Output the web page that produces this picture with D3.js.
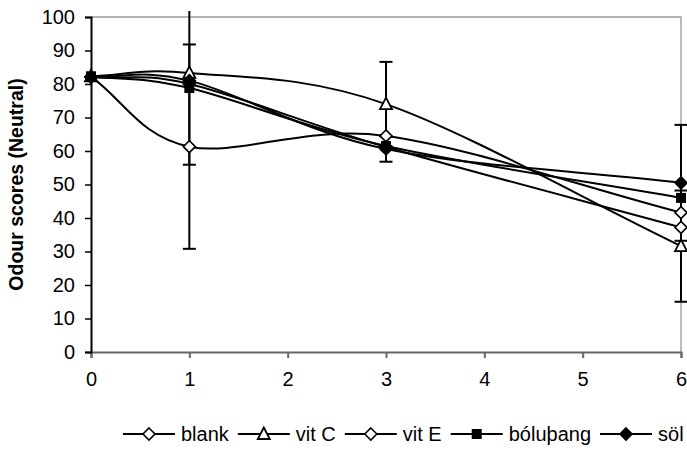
<!DOCTYPE html>
<html><head><meta charset="utf-8">
<script src="https://cdn.jsdelivr.net/npm/d3@7"></script>
<style>
html,body{margin:0;padding:0;background:#fff;}
svg{display:block;}
text{font-family:Arial,"Liberation Sans",sans-serif;fill:#000;}
</style></head>
<body>
<svg id="chart" width="687" height="454"></svg>
<script>
// ---- data ----
const days = [0, 1, 3, 6];
const xTicks = [0, 1, 2, 3, 4, 5, 6];
const yTicks = [0, 10, 20, 30, 40, 50, 60, 70, 80, 90, 100];
const seriesNames = ["blank", "vit C", "vit E", "bóluþang", "söl"];
const blank   = [82.2, 61.3, 64.5, 41.6];
const vitC    = [82.3, 83.3, 74.0, 31.6];
const vitE    = [82.0, 80.0, 61.2, 37.2];
const boluthang = [82.3, 78.8, 61.5, 46.0];
const sol     = [82.1, 81.0, 60.6, 50.5];
const blankErr = [0, 30.5, 0, 0];
const vitCErr  = [0, 27.4, 12.6, 16.6];
const vitEErr  = [0, 0, 0, 0];
const boluErr  = [0, 0, 0, 0];
const solErr   = [0, 0, 3.8, 17.3];
const yTitle = "Odour scores (Neutral)";

const seriesValues = [blank, vitC, vitE, boluthang, sol];
const seriesErrors = [blankErr, vitCErr, vitEErr, boluErr, solErr];
const markerKinds = ["diamondOpen", "triangleOpen", "diamondOpen", "square", "diamondFilled"];

// ---- Excel-like smoothed curve (Bezier, 1/6 neighbour tangents, reflected ends) ----
function ExcelSmooth(context) { this._context = context; }
ExcelSmooth.prototype = {
  areaStart() { this._line = 0; },
  areaEnd() { this._line = NaN; },
  lineStart() { this._pts = []; },
  point(px, py) { this._pts.push([+px, +py]); },
  lineEnd() {
    const p = this._pts, c = this._context, n = p.length;
    if (!n) return;
    c.moveTo(p[0][0], p[0][1]);
    if (n === 1) return;
    const get = i => {
      if (i < 0) return [2 * p[0][0] - p[1][0], 2 * p[0][1] - p[1][1]];
      if (i >= n) return [2 * p[n - 1][0] - p[n - 2][0], 2 * p[n - 1][1] - p[n - 2][1]];
      return p[i];
    };
    for (let i = 0; i < n - 1; i++) {
      const p0 = get(i - 1), p1 = p[i], p2 = p[i + 1], p3 = get(i + 2);
      const c1x = p1[0] + (p2[0] - p0[0]) / 6, c1y = p1[1] + (p2[1] - p0[1]) / 6;
      const c2x = p2[0] - (p3[0] - p1[0]) / 6, c2y = p2[1] - (p3[1] - p1[1]) / 6;
      c.bezierCurveTo(c1x, c1y, c2x, c2y, p2[0], p2[1]);
    }
  }
};
const curveExcel = ctx => new ExcelSmooth(ctx);

// ---- layout ----
const svg = d3.select("#chart");
const L = 91, R = 681, T = 17, B = 352;
const x = d3.scaleLinear().domain([0, 6]).range([L, R]);
const y = d3.scaleLinear().domain([0, 100]).range([B, T]);
const FS = 20;

// plot border (top/right)
svg.append("path").attr("d", `M${L},${T}H${R}V${B}`).attr("fill", "none")
  .attr("stroke", "#999").attr("stroke-width", 1.3);

// x axis
const gx = svg.append("g").attr("transform", `translate(0,${B})`)
  .call(d3.axisBottom(x).tickValues(xTicks).tickSize(6).tickPadding(14).tickFormat(d3.format("d")));
gx.select(".domain").attr("stroke", "#666").attr("stroke-width", 2);
gx.selectAll(".tick line").attr("stroke", "#666").attr("stroke-width", 2);
gx.selectAll("text").attr("font-size", FS).attr("font-family", "Arial, Liberation Sans, sans-serif").attr("fill", "#000");

// y axis
const gy = svg.append("g").attr("transform", `translate(${L},0)`)
  .call(d3.axisLeft(y).tickValues(yTicks).tickSize(6).tickPadding(10).tickFormat(d3.format("d")));
gy.select(".domain").attr("stroke", "#000").attr("stroke-width", 2);
gy.selectAll(".tick line").attr("stroke", "#000").attr("stroke-width", 1.5);
gy.selectAll("text").attr("font-size", FS).attr("font-family", "Arial, Liberation Sans, sans-serif").attr("fill", "#000");

// y title
svg.append("text").attr("transform", `translate(16,${(T + B) / 2}) rotate(-90)`)
  .attr("text-anchor", "middle").attr("dominant-baseline", "central")
  .attr("font-size", 19.5).attr("font-weight", "bold").text(yTitle);

// clip for error bars
svg.append("clipPath").attr("id", "clipE").append("rect")
  .attr("x", 0).attr("y", 11).attr("width", 687).attr("height", 454 - 11);

const line = d3.line().x((d, i) => x(days[i])).y(d => y(d)).curve(curveExcel);

// lines
seriesValues.forEach(vals => {
  svg.append("path").attr("d", line(vals)).attr("fill", "none")
    .attr("stroke", "#000").attr("stroke-width", 2);
});

// error bars
const eg = svg.append("g").attr("clip-path", "url(#clipE)");
seriesValues.forEach((vals, s) => {
  vals.forEach((v, i) => {
    const e = seriesErrors[s][i];
    if (!e) return;
    const cx = x(days[i]);
    const y1 = y(v + e), y2 = y(v - e);
    eg.append("line").attr("x1", cx).attr("x2", cx).attr("y1", y1).attr("y2", y2)
      .attr("stroke", "#000").attr("stroke-width", 2);
    [y1, y2].forEach(yy => eg.append("line").attr("x1", cx - 6.5).attr("x2", cx + 6.5)
      .attr("y1", yy).attr("y2", yy).attr("stroke", "#000").attr("stroke-width", 2));
  });
});

// markers
function drawMarker(g, kind, cx, cy) {
  if (kind === "square") {
    g.append("rect").attr("x", cx - 5).attr("y", cy - 5).attr("width", 10).attr("height", 10)
      .attr("fill", "#000");
  } else if (kind === "triangleOpen") {
    g.append("path").attr("d", `M${cx},${cy - 6.5}L${cx + 6},${cy + 5}L${cx - 6},${cy + 5}Z`)
      .attr("fill", "#fff").attr("stroke", "#000").attr("stroke-width", 1.8);
  } else {
    const r = 6;
    g.append("path").attr("d", `M${cx},${cy - r}L${cx + r},${cy}L${cx},${cy + r}L${cx - r},${cy}Z`)
      .attr("fill", kind === "diamondFilled" ? "#000" : "#fff").attr("stroke", "#000").attr("stroke-width", 1.6);
  }
}
seriesValues.forEach((vals, s) => {
  const g = svg.append("g");
  vals.forEach((v, i) => drawMarker(g, markerKinds[s], x(days[i]), y(v)));
});

// legend (laid out from measured text widths)
const legendY = 434, lineLen = 52, gapText = 6, gapItem = 9;
const legend = svg.append("g");
const items = seriesNames.map((name, s) => {
  const g = legend.append("g");
  g.append("line").attr("x1", 0).attr("x2", lineLen).attr("y1", legendY).attr("y2", legendY)
    .attr("stroke", "#000").attr("stroke-width", 2);
  drawMarker(g, markerKinds[s], lineLen / 2, legendY);
  const t = g.append("text").attr("x", lineLen + gapText).attr("y", legendY).attr("dominant-baseline", "central")
    .attr("font-size", FS).text(name);
  return { g, w: lineLen + gapText + t.node().getComputedTextLength() };
});
let cur = 123;
items.forEach(it => { it.g.attr("transform", `translate(${cur},0)`); cur += it.w + gapItem; });
</script>
</body></html>
